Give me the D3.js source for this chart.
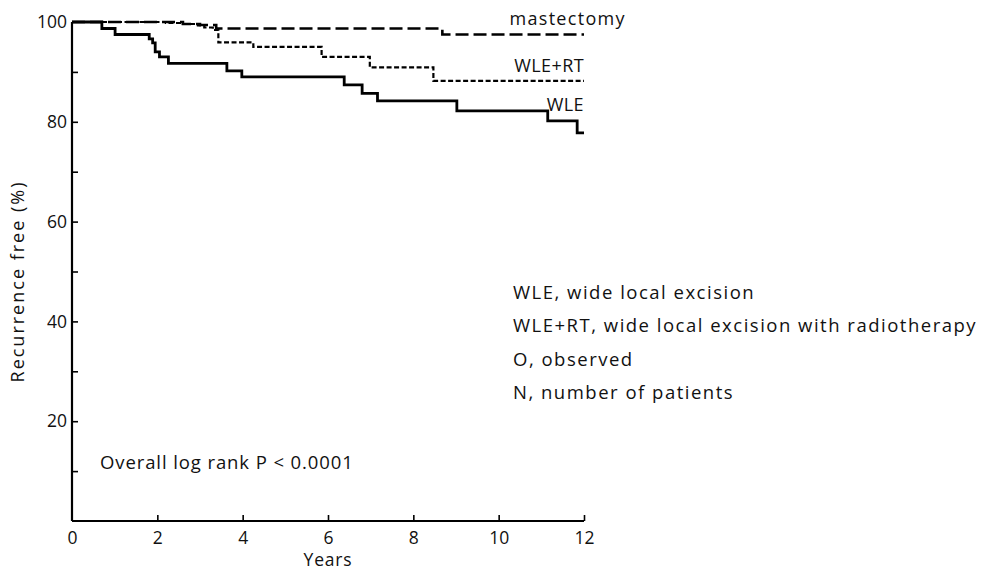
<!DOCTYPE html>
<html>
<head>
<meta charset="utf-8">
<script src="https://cdn.jsdelivr.net/npm/d3@7"></script>
<style>
  body { margin: 0; background: #fff; }
  svg text { font-family: "Open Sans", "Noto Sans", sans-serif; fill: #111; }
</style>
</head>
<body>
<svg id="chart"></svg>
<script>
// step points: [years, % recurrence free]
const wle = [[0,100],[0.70,98.7],[1.01,97.5],[1.81,96.6],[1.89,95.8],[1.95,94.0],[2.05,93.0],[2.26,91.7],[3.63,90.2],[3.98,89.0],[6.38,87.4],[6.80,85.7],[7.16,84.2],[9.02,82.2],[11.15,80.2],[11.84,77.8],[12,77.8]];
const wleRt = [[0,100],[2.2,99.8],[2.6,99.6],[2.95,99.3],[3.1,98.9],[3.3,98.4],[3.43,95.9],[4.25,95.0],[5.85,93.0],[6.98,90.9],[8.47,88.2],[12,88.2]];
const mastectomy = [[0,100],[2.6,99.6],[3.0,99.4],[3.38,98.7],[8.68,97.5],[12,97.5]];

const xTicks = [0, 2, 4, 6, 8, 10, 12];
const yTicks = [10, 20, 30, 40, 50, 60, 70, 80, 90];
const yLabels = [20, 40, 60, 80, 100];
const legendLines = ["WLE, wide local excision", "WLE+RT, wide local excision with radiotherapy", "O, observed", "N, number of patients"];
const curveLabels = [
  {text: "mastectomy", x: 12.98, y: 99.4, ls: 1.3},
  {text: "WLE+RT", x: 12, y: 90.0, ls: 0.4},
  {text: "WLE", x: 12, y: 82.2, ls: 0.4}
];

const width = 985, height = 570;
const svg = d3.select("#chart").attr("width", width).attr("height", height);

const x = d3.scaleLinear().domain([0, 12]).range([72, 584]);
const y = d3.scaleLinear().domain([0, 100]).range([521, 22]);

// axes
const xAxis = d3.axisBottom(x).tickValues(xTicks).tickSize(-6).tickPadding(11);
const yAxis = d3.axisLeft(y).tickValues(yTicks).tickSize(-6).tickPadding(5)
  .tickFormat(d => yLabels.includes(d) ? d : "");

const gx = svg.append("g").attr("transform", `translate(0,${y(0)})`).call(xAxis);
gx.select(".domain").attr("d", `M${x(0)},0H${x(12)}`);
gx.selectAll(".tick").filter(d => d === 0).select("line").remove();

const gy = svg.append("g").attr("transform", `translate(${x(0)},0)`).call(yAxis);
gy.select(".domain").attr("d", `M0,${y(0)}V${y(100)}`);
gy.append("g").attr("class", "tick").attr("transform", `translate(0,${y(100)})`)
  .append("text").attr("x", -5).attr("dy", "0.32em").text("100");

[gx, gy].forEach(g => {
  g.select(".domain").attr("stroke", "#000").attr("stroke-width", 2.2);
  g.selectAll(".tick line").attr("stroke", "#000").attr("stroke-width", 1.6);
  g.selectAll(".tick text").attr("font-size", 17.5).attr("fill", "#111")
    .attr("font-family", "'Open Sans', 'Noto Sans', sans-serif");
});
gy.selectAll(".tick text").attr("text-anchor", "end");

svg.append("text").attr("x", (x(0) + x(12)) / 2).attr("y", 566)
  .attr("text-anchor", "middle").attr("font-size", 17.5)
  .attr("letter-spacing", 0.8).text("Years");
svg.append("text").attr("transform", `translate(24,${y(50) + 10}) rotate(-90)`)
  .attr("text-anchor", "middle").attr("font-size", 18)
  .attr("letter-spacing", 2).text("Recurrence free (%)");

// survival curves
const line = d3.line().x(d => x(d[0])).y(d => y(d[1])).curve(d3.curveStepAfter);

svg.append("path").datum(mastectomy).attr("d", line)
  .attr("fill", "none").attr("stroke", "#000").attr("stroke-width", 2.6)
  .attr("stroke-dasharray", "13,5");
svg.append("path").datum(wleRt).attr("d", line)
  .attr("fill", "none").attr("stroke", "#000").attr("stroke-width", 2.2)
  .attr("stroke-dasharray", "5,2.5");
svg.append("path").datum(wle).attr("d", line)
  .attr("fill", "none").attr("stroke", "#000").attr("stroke-width", 2.8);

svg.selectAll(".clabel").data(curveLabels).enter()
  .append("text").attr("class", "clabel")
  .attr("x", d => x(d.x)).attr("y", d => y(d.y))
  .attr("text-anchor", "end").attr("font-size", 18)
  .attr("letter-spacing", d => d.ls)
  .text(d => d.text);

// notes
svg.selectAll(".legend").data(legendLines).enter()
  .append("text").attr("class", "legend")
  .attr("x", 513).attr("y", (d, i) => 299 + i * 33.3)
  .attr("font-size", 18.5).attr("letter-spacing", 1.5).text(d => d);

svg.append("text").attr("x", 100).attr("y", 469).attr("font-size", 18.5)
  .attr("letter-spacing", 0.9).text("Overall log rank P < 0.0001");
</script>
</body>
</html>
